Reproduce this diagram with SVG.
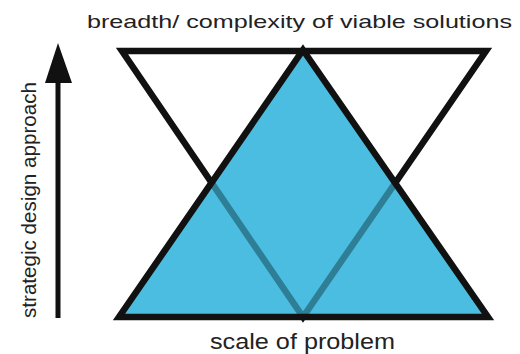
<svg xmlns="http://www.w3.org/2000/svg" width="520" height="354" viewBox="0 0 520 354">
<style>
.lbl{font-family:"Liberation Sans",Arial,sans-serif;fill:#222}
.edge{fill:none;stroke:#111;stroke-width:6.5;stroke-linejoin:miter;stroke-miterlimit:10}
</style>
<defs>
<clipPath id="upClip"><polygon points="303,50 488,317 119,317"/></clipPath>
</defs>
<rect width="520" height="354" fill="#fff"/>
<g id="inverted-triangle">
<polygon class="edge" points="122,51 486,51 303,317"/>
</g>
<g id="upright-triangle">
<polygon points="303,50 488,317 119,317" fill="#4bbde1"/>
<polygon points="122,51 486,51 303,317" fill="none" stroke="#2e7e96" stroke-width="6.5" clip-path="url(#upClip)"/>
<polygon class="edge" points="303,50 488,317 119,317"/>
</g>
<g id="connectors">
<line x1="58" y1="318" x2="58" y2="80" stroke="#111" stroke-width="5"/>
<polygon points="58,43 45,83 72,83" fill="#111"/>
</g>
<g id="labels">
<text class="lbl" x="87" y="27.5" font-size="19" textLength="425" lengthAdjust="spacingAndGlyphs">breadth/ complexity of viable solutions</text>
<text class="lbl" x="210" y="349" font-size="22" textLength="185" lengthAdjust="spacingAndGlyphs">scale of problem</text>
<text class="lbl" transform="translate(36,318) rotate(-90)" font-size="20" textLength="236" lengthAdjust="spacingAndGlyphs">strategic design approach</text>
</g>
</svg>
